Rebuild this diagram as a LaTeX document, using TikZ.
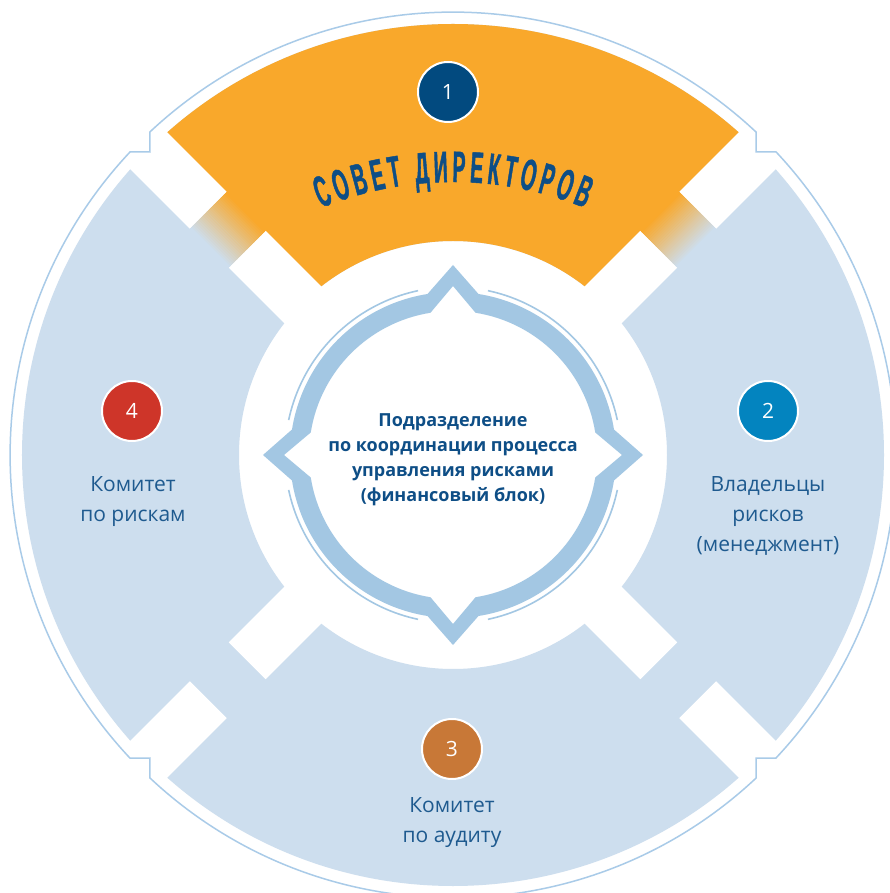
\documentclass[tikz,border=0pt]{standalone}
\usepackage{fontspec}
\setmainfont{Open Sans}
\newfontfamily\titlefont[FakeStretch=0.44,FakeBold=1]{Liberation Sans}
\usetikzlibrary{decorations.text}

\definecolor{segorange}{HTML}{F9A82B}
\definecolor{segblue}{HTML}{CDDEEE}
\definecolor{ringblue}{HTML}{A3C7E3}
\definecolor{lineblue}{HTML}{A9CBE8}
\definecolor{titleblue}{HTML}{0E4E86}
\definecolor{lblblue}{HTML}{1E5A8F}
\definecolor{numA}{HTML}{024A7F}
\definecolor{numB}{HTML}{0384BF}
\definecolor{numC}{HTML}{C87837}
\definecolor{numD}{HTML}{CE3529}

\begin{document}
\begin{tikzpicture}[
  x=1pt, y=1pt,
  numdot/.style={circle, draw=white, line width=2pt, minimum size=60pt,
                 inner sep=0pt, text=white, font=\fontsize{21}{21}\selectfont},
  lbl/.style={align=center, text=lblblue, inner sep=0pt,
              font=\fontsize{21}{30}\selectfont},
  ctext/.style={align=center, text=titleblue, inner sep=0pt,
                font=\bfseries\fontsize{18}{25}\selectfont}
]
\path[fill=white, use as bounding box] (-453,-438) rectangle (436,455);

% ---- ring of four segments ----
\fill[segblue, even odd rule] (0,0) circle (431pt) (0,0) circle (214pt);
\begin{scope}[even odd rule]
  \clip (0,0) circle (431pt) (0,0) circle (214pt);
  \fill[segorange] (0,0) -- (45:700) -- (135:700) -- cycle;
\end{scope}
% ---- gaps between segments ----
\foreach \a in {45,135,225,315}{
  \begin{scope}[rotate=\a]
    \fill[white] (346,-26) rectangle (470,26);
    \fill[white] (200,-26) rectangle (291,26);
  \end{scope}
}
% ---- faded bridges under the board ----
\foreach \a/\s in {45/1,135/-1}{
  \begin{scope}[rotate=\a]
    \foreach \i in {0,...,25}{
      \pgfmathsetmacro\pct{\s>0 ? 100*\i/25 : 100-100*\i/25}
      \fill[segorange!\pct!segblue] (291,-26+2*\i) rectangle (346,-23.7+2*\i);
    }
  \end{scope}
}
% ---- outer thin line with notches ----
\draw[lineblue, line width=1.5pt]
  (303,323) arc[start angle=46.83, end angle=133.17, radius=443pt]
  -- (-303,303) -- (-323,303)
  arc[start angle=136.83, end angle=223.17, radius=443pt]
  -- (-303,-303) -- (-303,-323)
  arc[start angle=226.83, end angle=313.17, radius=443pt]
  -- (303,-303) -- (323,-303)
  arc[start angle=316.83, end angle=403.17, radius=443pt]
  -- (303,303) -- cycle;

% ---- centre star ring ----
\fill[ringblue, even odd rule]
  (9:163) \foreach \d in {0,90,180,270}{
    arc[start angle=\d+9, end angle=\d+81, radius=163pt]
    -- (\d+90:190) -- (\d+99:163) } -- cycle
  (9:144) \foreach \d in {0,90,180,270}{
    arc[start angle=\d+9, end angle=\d+81, radius=144pt]
    -- (\d+90:169) -- (\d+99:144) } -- cycle;
\foreach \d in {0,90,180,270}
  \draw[ringblue, line width=1.6pt] (\d+12:168) arc[start angle=\d+12, end angle=\d+78, radius=168pt];

% ---- title on the arc ----
\path[decorate, decoration={text along path, text align=fit to path,
  text={|\titlefont\bfseries\fontsize{44}{44}\selectfont\color{titleblue}|СОВЕТ ДИРЕКТОРОВ}}]
  ([shift={(0,-75)}]112.3:348) arc[start angle=112.3, end angle=67.7, radius=348pt];

% ---- numbers ----
\node[numdot, fill=numA] (n1) at (-5,363) {1};
\node[numdot, fill=numB] (n2) at (315,44) {2};
\node[numdot, fill=numC] (n3) at (-1,-294) {3};
\node[numdot, fill=numD] (n4) at (-321,44) {4};

% ---- labels ----
\node[lbl] (l2) at (315,-61) {Владельцы\\рисков\\(менеджмент)};
\node[lbl] (l3) at (-1,-368) {Комитет\\по аудиту};
\node[lbl] (l4) at (-320,-47) {Комитет\\по рискам};
\node[ctext] (mid) at (0,-4.5) {Подразделение\\по координации процесса\\управления рисками\\(финансовый блок)};
\end{tikzpicture}
\end{document}
